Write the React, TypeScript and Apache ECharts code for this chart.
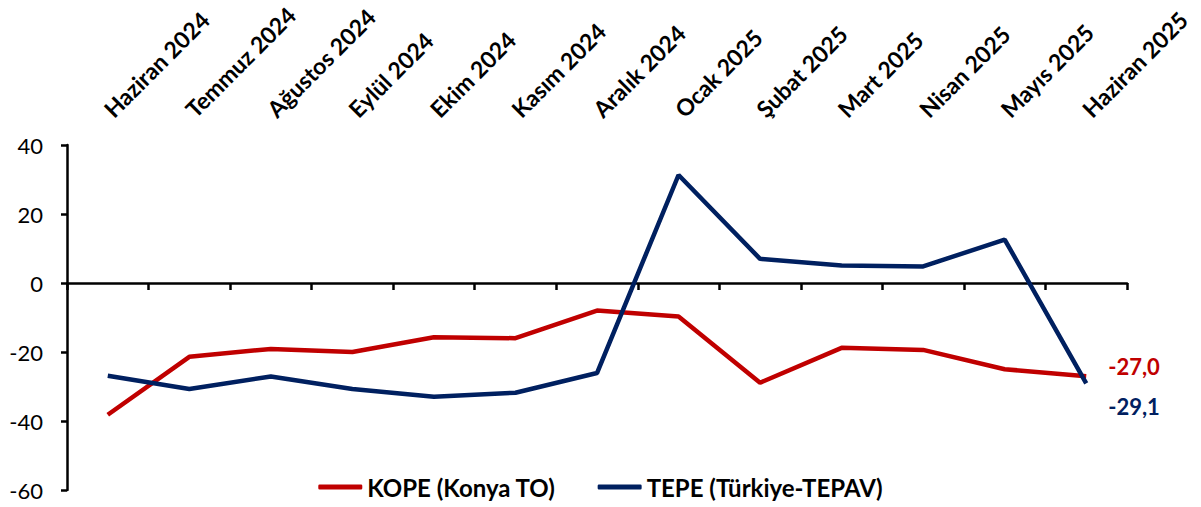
import React, { useEffect, useRef } from "react";
import * as echarts from "echarts";

const months = [
  "Haziran 2024", "Temmuz 2024", "Ağustos 2024", "Eylül 2024", "Ekim 2024", "Kasım 2024",
  "Aralık 2024", "Ocak 2025", "Şubat 2025", "Mart 2025", "Nisan 2025", "Mayıs 2025", "Haziran 2025",
];
const kope = [-38.2, -21.4, -19.1, -20.0, -15.7, -16.0, -8.0, -9.7, -28.9, -18.8, -19.4, -25.0, -27.0];
const tepe = [-26.9, -30.7, -27.1, -30.7, -33.0, -31.8, -26.1, 31.3, 7.0, 5.1, 4.8, 12.6, -29.1];
const yTicks = { min: -60, max: 40, interval: 20 };
const seriesNames = ["KOPE (Konya TO)", "TEPE (Türkiye-TEPAV)"];

const RED = "#C00000";
const NAVY = "#002060";
const FONT = "Lato, 'Open Sans', sans-serif";

const fmt = (v: number) => v.toFixed(1).replace(".", ",");

export default function App() {
  const ref = useRef<HTMLDivElement>(null);
  useEffect(() => {
    const chart = echarts.init(ref.current!, null, { renderer: "svg" });
    chart.setOption({
      animation: false,
      backgroundColor: "#ffffff",
      grid: { left: 67, right: 74, top: 145, bottom: 17, containLabel: false },
      legend: {
        bottom: 3,
        left: "center",
        itemWidth: 44,
        itemHeight: 5,
        itemGap: 42,
        icon: "roundRect",
        textStyle: { fontFamily: FONT, fontWeight: "bold", fontSize: 24, color: "#000" },
        data: seriesNames,
      },
      xAxis: [
        {
          type: "category",
          data: months,
          position: "bottom",
          boundaryGap: true,
          axisLine: { show: true, onZero: true, lineStyle: { color: "#000", width: 2.5 } },
          axisTick: { show: true, interval: 0, length: 7, lineStyle: { color: "#000", width: 2.5 } },
          axisLabel: { show: false, interval: 0 },
          splitLine: { show: false },
        },
        {
          type: "category",
          data: months,
          position: "top",
          boundaryGap: true,
          axisLine: { show: false, onZero: false },
          axisTick: { show: false },
          axisLabel: {
            show: true,
            rotate: -45,
            margin: 32,
            interval: 0,
            color: "#000",
            fontFamily: FONT,
            fontWeight: "bold",
            fontSize: 23,
          },
          splitLine: { show: false },
        },
      ],
      yAxis: {
        type: "value",
        min: yTicks.min,
        max: yTicks.max,
        interval: yTicks.interval,
        axisLine: { show: true, lineStyle: { color: "#000", width: 2.5 } },
        axisTick: { show: true, length: 6, lineStyle: { color: "#000", width: 2.5 } },
        axisLabel: { color: "#000", fontFamily: FONT, fontSize: 22, margin: 24 },
        splitLine: { show: false },
      },
      series: [
        {
          name: seriesNames[0],
          type: "line",
          xAxisIndex: 0,
          data: kope,
          symbol: "none",
          color: RED,
          lineStyle: { color: RED, width: 4.5 },
          endLabel: {
            show: true,
            offset: [14, -10],
            formatter: (p: any) => fmt(p.value),
            color: RED,
            fontFamily: FONT,
            fontWeight: "bold",
            fontSize: 22,
          },
          z: 3,
        },
        {
          name: seriesNames[1],
          type: "line",
          xAxisIndex: 0,
          data: tepe,
          symbol: "none",
          color: NAVY,
          lineStyle: { color: NAVY, width: 4.5 },
          endLabel: {
            show: true,
            offset: [14, 23],
            formatter: (p: any) => fmt(p.value),
            color: NAVY,
            fontFamily: FONT,
            fontWeight: "bold",
            fontSize: 22,
          },
          z: 4,
        },
      ],
    });
    return () => chart.dispose();
  }, []);
  return (
    <div
      ref={ref}
      style={{ position: "fixed", left: 0, top: 0, width: 1201, height: 507, background: "#fff" }}
    />
  );
}
